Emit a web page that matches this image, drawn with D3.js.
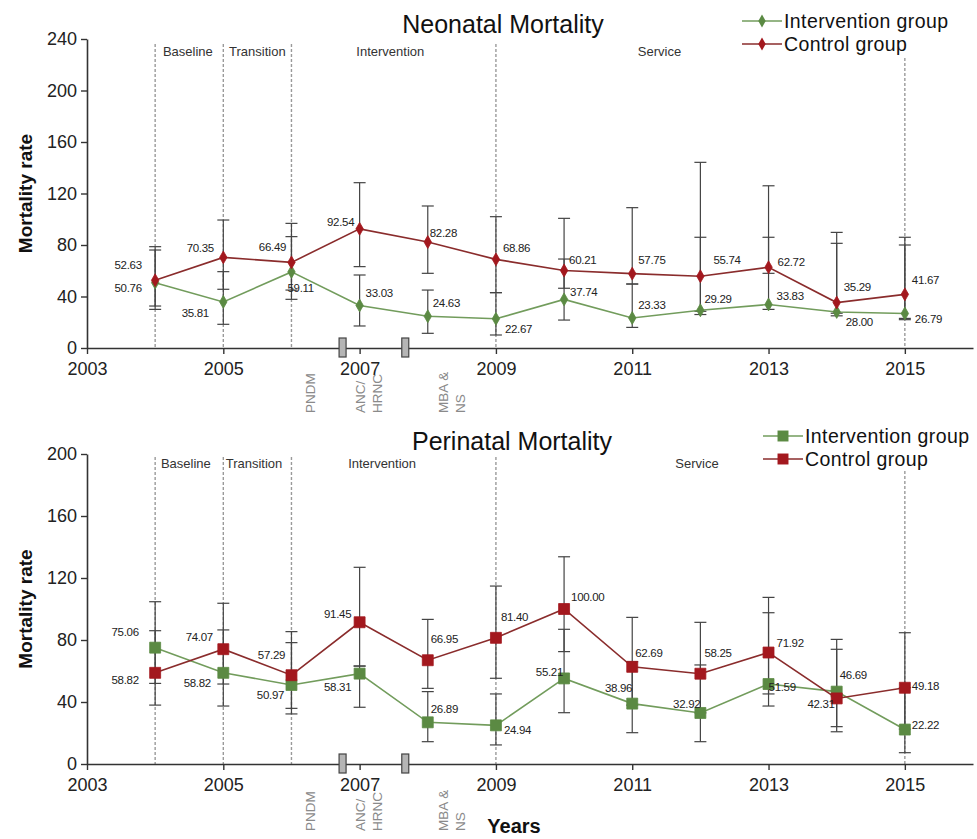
<!DOCTYPE html>
<html>
<head>
<meta charset="utf-8">
<script src="https://cdn.jsdelivr.net/npm/d3@7"></script>
<style>
  body { margin: 0; background: #fff; }
  svg { font-family: "Liberation Sans", Arial, sans-serif; }
</style>
</head>
<body>
<svg id="chart" width="977" height="839"></svg>
<script>
// datos
const years = [2004, 2005, 2006, 2007, 2008, 2009, 2010, 2011, 2012, 2013, 2014, 2015];
const xTicks = [2003, 2005, 2007, 2009, 2011, 2013, 2015];
const neoYTicks = [0, 40, 80, 120, 160, 200, 240];
const periYTicks = [0, 40, 80, 120, 160, 200];
const phaseLines = [2004, 2005, 2006, 2009, 2015];
const phaseNames = ["Baseline", "Transition", "Intervention", "Service"];
const neoPhaseYears = [2004.48, 2005.5, 2007.45, 2011.4];
const periPhaseYears = [2004.45, 2005.45, 2007.33, 2011.95];
const milestoneYears = [2006.75, 2007.67];
const milestoneLabels = [["PNDM"], ["ANC/", "HRNC"], ["MBA &", "NS"]];
const milestoneLabelYears = [2006.27, 2007.0, 2008.22];

const neoInt = [50.76, 35.81, 59.11, 33.03, 24.63, 22.67, 37.74, 23.33, 29.29, 33.83, 28.00, 26.79];
const neoIntLo = [32.6, 18.4, 37.8, 17.1, 11.4, 10.1, 21.7, 16.0, 26.0, 30.0, 25.0, 22.0];
const neoIntHi = [76.1, 59.3, 86.5, 56.7, 45.0, 43.0, 69.1, 49.7, 86.0, 86.0, 81.3, 80.0];
const neoCtl = [52.63, 70.35, 66.49, 92.54, 82.28, 68.86, 60.21, 57.75, 55.74, 62.72, 35.29, 41.67];
const neoCtlLo = [30.0, 45.6, 45.0, 63.2, 58.0, 43.0, 46.4, 49.7, 28.5, 58.0, 27.0, 23.0];
const neoCtlHi = [78.7, 99.4, 96.8, 128.4, 110.3, 102.0, 100.7, 109.0, 144.2, 126.0, 89.8, 86.0];

const periInt = [75.06, 58.82, 50.97, 58.31, 26.89, 24.94, 55.21, 38.96, 32.92, 51.59, 46.69, 22.22];
const periIntLo = [52.0, 37.4, 32.3, 36.6, 14.4, 12.3, 33.1, 20.2, 14.4, 37.4, 24.1, 7.3];
const periIntHi = [104.7, 86.5, 78.3, 63.2, 46.7, 45.2, 86.9, 66.0, 63.9, 97.6, 80.4, 49.2];
const periCtl = [58.82, 74.07, 57.29, 91.45, 66.95, 81.40, 100.00, 62.69, 58.25, 71.92, 42.31, 49.18];
const periCtlLo = [38.0, 51.6, 35.9, 63.2, 48.8, 55.3, 72.5, 38.0, 33.0, 45.2, 20.8, 22.5];
const periCtlHi = [86.0, 103.7, 85.4, 126.9, 93.3, 114.8, 133.7, 94.6, 91.4, 107.5, 74.0, 84.7];

// colocacion de las etiquetas de valor: [dx, dy, anchor]
const neoIntLab = [[-27,5,"middle"],[-28,11,"middle"],[-4,16,"start"],[6,-12,"start"],[5,-13,"start"],[9,10,"start"],
                   [6,-7,"start"],[6,-13,"start"],[4,-11,"start"],[8,-8,"start"],[9,10,"start"],[10,5,"start"]];
const neoCtlLab = [[-27,-15,"middle"],[-23,-9,"middle"],[-19,-15,"middle"],[-19,-7,"middle"],[2,-9,"start"],[7,-11,"start"],
                   [5,-10,"start"],[6,-14,"start"],[13,-16,"start"],[9,-5,"start"],[7,-16,"start"],[7,-14,"start"]];
const periIntLab = [[-30,-16,"middle"],[-26,10,"middle"],[-21,10,"middle"],[-22,13,"middle"],[3,-13,"start"],[8,5,"start"],
                    [-1,-6,"end"],[0,-16,"end"],[0,-9,"end"],[0,3,"start"],[3,-17,"start"],[7,-5,"start"]];
const periCtlLab = [[-30,7,"middle"],[-24,-12,"middle"],[-20,-20,"middle"],[-22,-8,"middle"],[3,-21,"start"],[5,-21,"start"],
                    [7,-12,"start"],[3,-14,"start"],[4,-21,"start"],[8,-10,"start"],[-2,6,"end"],[7,-2,"start"]];

const green = { line: "#729c5c", mark: "#5b8a43" };
const red = { line: "#8a2c2c", mark: "#a3181e" };

const svg = d3.select("#chart");
const xScale = d3.scaleLinear().domain([2003, 2016]).range([87, 973]);

function panel(cfg) {
    const g = svg.append("g");
    const yScale = d3.scaleLinear().domain([0, cfg.yMax]).range([cfg.bottom, cfg.top]);

    // lineas de fase punteadas
    g.selectAll(".phase")
        .data(phaseLines)
        .enter()
        .append("line")
        .attr("x1", d => xScale(d))
        .attr("x2", d => xScale(d))
        .attr("y1", d => d === 2015 ? cfg.dashTop + 14 : cfg.dashTop)
        .attr("y2", cfg.bottom)
        .attr("stroke", "#9a9a9a")
        .attr("stroke-width", 1.4)
        .attr("stroke-dasharray", "3,2");

    g.selectAll(".phaseName")
        .data(phaseNames)
        .enter()
        .append("text")
        .text(d => d)
        .attr("x", (d, i) => xScale(cfg.phaseYears[i]))
        .attr("y", cfg.phaseY)
        .attr("text-anchor", "middle")
        .attr("font-size", "13px")
        .attr("fill", "#333");

    // ejes
    const xAxis = g.append("g")
        .attr("transform", `translate(0,${cfg.bottom})`)
        .call(d3.axisBottom(xScale).tickValues(xTicks).tickFormat(d3.format("d")).tickSize(6).tickSizeOuter(0).tickPadding(6));
    const yAxis = g.append("g")
        .attr("transform", `translate(${xScale(2003)},0)`)
        .call(d3.axisLeft(yScale).tickValues(cfg.yTicks).tickSize(6).tickSizeOuter(0).tickPadding(4));
    [xAxis, yAxis].forEach(a => {
        a.select(".domain").attr("stroke", "#333").attr("stroke-width", 1.6);
        a.selectAll(".tick line").attr("stroke", "#333").attr("stroke-width", 1.4);
        a.selectAll(".tick text").attr("font-size", "18px").attr("fill", "#222")
            .attr("font-family", "Liberation Sans, Arial, sans-serif");
    });
    xAxis.selectAll(".tick text").attr("dy", "0.85em");

    // marcadores de hitos en el eje
    g.selectAll(".milestone")
        .data(milestoneYears)
        .enter()
        .append("rect")
        .attr("x", d => xScale(d) - 3.5)
        .attr("y", cfg.bottom - 10)
        .attr("width", 7)
        .attr("height", 19)
        .attr("fill", "#b5b5b5")
        .attr("stroke", "#444")
        .attr("stroke-width", 1.2);

    milestoneLabels.forEach((lines, i) => {
        const t = g.append("text")
            .attr("transform", `translate(${xScale(milestoneLabelYears[i])},${cfg.milestoneY}) rotate(-90)`)
            .attr("font-size", "13.5px")
            .attr("fill", "#8a8a8a")
            .attr("dominant-baseline", "central");
        lines.forEach((l, j) => {
            t.append("tspan").attr("x", 0).attr("y", j * 17).text(l);
        });
    });

    // barras de error
    cfg.series.forEach(s => {
        const eb = g.append("g").attr("stroke", "#444").attr("stroke-width", 1.2);
        eb.selectAll(".v")
            .data(years)
            .enter()
            .append("line")
            .attr("x1", d => xScale(d))
            .attr("x2", d => xScale(d))
            .attr("y1", (d, i) => yScale(s.lo[i]))
            .attr("y2", (d, i) => yScale(s.hi[i]));
        [s.lo, s.hi].forEach(arr => {
            eb.selectAll(null)
                .data(years)
                .enter()
                .append("line")
                .attr("x1", d => xScale(d) - 6)
                .attr("x2", d => xScale(d) + 6)
                .attr("y1", (d, i) => yScale(arr[i]))
                .attr("y2", (d, i) => yScale(arr[i]));
        });
    });

    const line = d3.line()
        .x((d, i) => xScale(years[i]))
        .y(d => yScale(d));

    cfg.series.forEach(s => {
        g.append("path")
            .datum(s.values)
            .attr("fill", "none")
            .attr("stroke", s.color.line)
            .attr("stroke-width", 1.6)
            .attr("d", line);

        g.selectAll(null)
            .data(s.values)
            .enter()
            .append("path")
            .attr("transform", (d, i) => `translate(${xScale(years[i])},${yScale(d)})`)
            .attr("d", d3.symbol().type(cfg.symbol).size(cfg.symbolSize))
            .attr("fill", s.color.mark)
            .attr("stroke", s.color.mark)
            .attr("stroke-width", 0.8);

        g.selectAll(null)
            .data(s.values)
            .enter()
            .append("text")
            .text(d => d.toFixed(2))
            .attr("x", (d, i) => xScale(years[i]) + s.lab[i][0])
            .attr("y", (d, i) => yScale(d) + s.lab[i][1])
            .attr("text-anchor", (d, i) => s.lab[i][2])
            .attr("dominant-baseline", "central")
            .attr("font-size", "11.5px")
            .attr("letter-spacing", "-0.3px")
            .attr("fill", "#222");
    });

    // titulo
    g.append("text")
        .text(cfg.title)
        .attr("x", cfg.titleX)
        .attr("y", cfg.titleY)
        .attr("text-anchor", "middle")
        .attr("font-size", "25px")
        .attr("fill", "#111");

    // eje y titulo
    g.append("text")
        .text("Mortality rate")
        .attr("transform", `translate(25,${(cfg.top + cfg.bottom) / 2}) rotate(-90)`)
        .attr("text-anchor", "middle")
        .attr("dominant-baseline", "central")
        .attr("font-size", "19px")
        .attr("font-weight", "bold")
        .attr("fill", "#111");

    // leyenda
    cfg.series.forEach((s, i) => {
        const ly = cfg.legendY + i * 23;
        g.append("line")
            .attr("x1", cfg.legendX).attr("x2", cfg.legendX + 40)
            .attr("y1", ly).attr("y2", ly)
            .attr("stroke", s.color.line).attr("stroke-width", 1.6);
        g.append("path")
            .attr("transform", `translate(${cfg.legendX + 20},${ly})`)
            .attr("d", d3.symbol().type(cfg.symbol).size(cfg.symbolSize))
            .attr("fill", s.color.mark);
        g.append("text")
            .text(s.name)
            .attr("x", cfg.legendX + 42)
            .attr("y", ly)
            .attr("dominant-baseline", "central")
            .attr("font-size", "19.5px")
            .attr("letter-spacing", "0.4px")
            .attr("fill", "#111");
    });
}

panel({
    title: "Neonatal Mortality", titleX: 503, titleY: 33,
    yMax: 240, yTicks: neoYTicks, top: 39, bottom: 348, dashTop: 44, phaseY: 56, phaseYears: neoPhaseYears,
    milestoneY: 413, legendX: 742, legendY: 21,
    symbol: d3.symbolDiamond, symbolSize: 48,
    series: [
        { name: "Intervention group", values: neoInt, lo: neoIntLo, hi: neoIntHi, lab: neoIntLab, color: green },
        { name: "Control group", values: neoCtl, lo: neoCtlLo, hi: neoCtlHi, lab: neoCtlLab, color: red }
    ]
});

panel({
    title: "Perinatal Mortality", titleX: 512, titleY: 450,
    yMax: 200, yTicks: periYTicks, top: 454, bottom: 764, dashTop: 457, phaseY: 468, phaseYears: periPhaseYears,
    milestoneY: 831, legendX: 763, legendY: 436,
    symbol: d3.symbolSquare, symbolSize: 120,
    series: [
        { name: "Intervention group", values: periInt, lo: periIntLo, hi: periIntHi, lab: periIntLab, color: green },
        { name: "Control group", values: periCtl, lo: periCtlLo, hi: periCtlHi, lab: periCtlLab, color: red }
    ]
});

svg.append("text")
    .text("Years")
    .attr("x", 514)
    .attr("y", 833)
    .attr("text-anchor", "middle")
    .attr("font-size", "20px")
    .attr("font-weight", "bold")
    .attr("fill", "#111");
</script>
</body>
</html>
